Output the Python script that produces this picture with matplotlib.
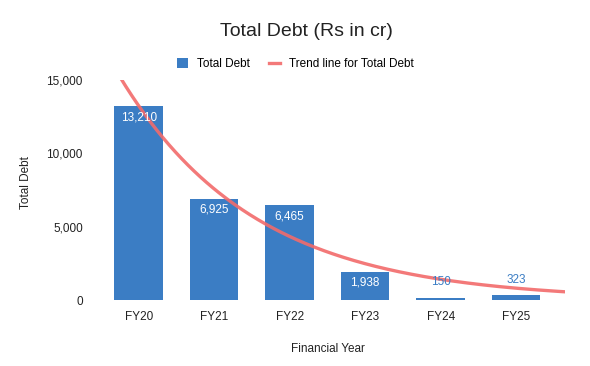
#!/usr/bin/env python3
"""Total debt bar chart with exponential trend line."""

import matplotlib

matplotlib.use("Agg")
import matplotlib.pyplot as plt
import numpy as np
from matplotlib.lines import Line2D
from matplotlib.patches import Patch

YEARS = ["FY20", "FY21", "FY22", "FY23", "FY24", "FY25"]
TOTAL_DEBT = [13210, 6925, 6465, 1938, 150, 323]
Y_TICKS = [0, 5000, 10000, 15000]

BAR_COLOR = "#3b7dc4"
TREND_COLOR = "#f26b6b"
TEXT_COLOR = "#222222"


def fit_exponential(x, y):
    # least squares fit of y = a * exp(b * x), done on the raw values
    best = None
    for b in np.linspace(-2.0, 0.5, 2501):
        f = np.exp(b * x)
        a = np.dot(y, f) / np.dot(f, f)
        err = np.sum((y - a * f) ** 2)
        if best is None or err < best[0]:
            best = (err, a, b)
    return best[1], best[2]


def main() -> None:
    plt.rcParams["font.family"] = ["Liberation Sans", "DejaVu Sans"]
    fig = plt.figure(figsize=(5.9, 3.66), dpi=100)
    ax = fig.add_axes([0.171, 0.180, 0.787, 0.601])

    x = np.arange(len(YEARS))
    values = np.array(TOTAL_DEBT, dtype=float)
    ax.bar(x, values, width=0.64, color=BAR_COLOR, zorder=2)

    for xi, v in zip(x, values):
        if v > 1000:
            ax.annotate(f"{int(v):,}", (xi, v), xytext=(0, -3.5), textcoords="offset points",
                        ha="center", va="top", color="white", fontsize=8.5, zorder=4)
        else:
            ax.annotate(f"{int(v):,}", (xi, v), xytext=(0, 7), textcoords="offset points",
                        ha="center", va="bottom", color=BAR_COLOR, fontsize=8.5, zorder=4)

    a, b = fit_exponential(x.astype(float), values)
    xs = np.linspace(-0.5, 5.65, 300)
    ax.plot(xs, a * np.exp(b * xs), color=TREND_COLOR, linewidth=2.4, alpha=0.9, zorder=3)

    ax.set_xlim(-0.5, 5.65)
    ax.set_ylim(0, 15000)
    ax.set_xticks(x)
    ax.set_xticklabels(YEARS)
    ax.set_yticks(Y_TICKS)
    ax.set_yticklabels([f"{t:,}" for t in Y_TICKS])
    ax.tick_params(axis="both", length=0, labelsize=8.5, colors=TEXT_COLOR)
    ax.tick_params(axis="x", pad=8)
    ax.tick_params(axis="y", pad=13)
    for spine in ax.spines.values():
        spine.set_visible(False)

    ax.set_xlabel("Financial Year", fontsize=8.5, color=TEXT_COLOR)
    ax.xaxis.set_label_coords(0.49, -0.195)
    ax.set_ylabel("Total Debt", fontsize=8.5, color=TEXT_COLOR)
    ax.yaxis.set_label_coords(-0.148, 0.536)

    fig.text(0.519, 0.915, "Total Debt (Rs in cr)", ha="center", va="center",
             fontsize=14, color=TEXT_COLOR)

    handles = [
        Patch(facecolor=BAR_COLOR, edgecolor="none"),
        Line2D([0], [0], color=TREND_COLOR, linewidth=2.4, alpha=0.9),
    ]
    fig.legend(handles, ["Total Debt", "Trend line for Total Debt"], loc="center",
               bbox_to_anchor=(0.5, 0.825), ncol=2, frameon=False, fontsize=8.5,
               handlelength=1.0, handleheight=1.0, columnspacing=1.6, handletextpad=0.7)

    fig.savefig("out.png", dpi=100, facecolor="white")
    plt.close(fig)


if __name__ == "__main__":
    main()
